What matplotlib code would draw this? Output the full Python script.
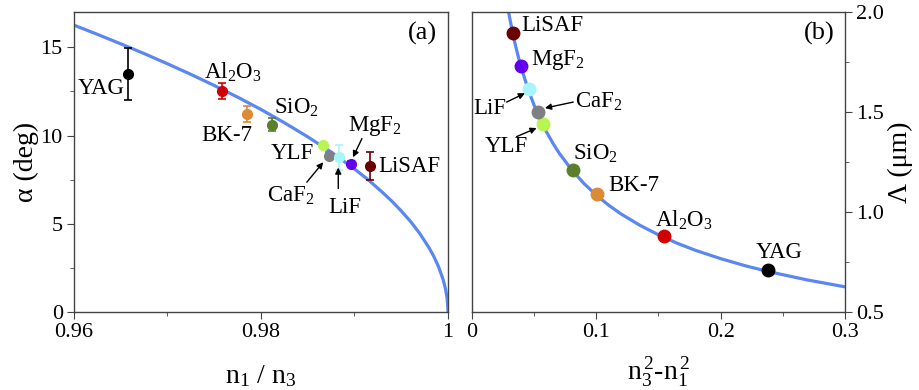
import matplotlib
matplotlib.use('Agg')
import matplotlib.pyplot as plt
from matplotlib.ticker import MultipleLocator

plt.rcParams['font.family'] = ['Liberation Serif', 'DejaVu Serif']
plt.rcParams['mathtext.fontset'] = 'custom'
plt.rcParams['mathtext.rm'] = 'Liberation Serif'
plt.rcParams['mathtext.it'] = 'Liberation Serif:italic'

# crystals (same order in both panels)
crystals = ['YAG', 'Al$_2$O$_3$', 'BK-7', 'SiO$_2$', 'YLF', 'CaF$_2$', 'LiF', 'MgF$_2$', 'LiSAF']
colors = ['#000000', '#d00000', '#dc8a35', '#5b7f2b', '#b8f550', '#808080', '#a8f5f8', '#6200ee', '#6a0000']

# panel (a): measured angle vs n1/n3
ratio = [0.96581, 0.97588, 0.97849, 0.98117, 0.98662, 0.98723, 0.98834, 0.98966, 0.99169]
alpha = [13.49, 12.55, 11.23, 10.62, 9.49, 8.87, 8.77, 8.40, 8.26]
alpha_err = [1.5, 0.45, 0.45, 0.35, 0.0, 0.2, 0.7, 0.15, 0.8]

# panel (a) theory curve
curve_a_x = [0.96, 0.9625, 0.965, 0.9675, 0.97, 0.9725, 0.975, 0.9775, 0.98, 0.9825,
             0.985, 0.9875, 0.99, 0.9915, 0.993, 0.994, 0.995, 0.996, 0.997, 0.998,
             0.9985, 0.999, 0.9995, 0.99975, 0.9999, 0.99999, 1.0]
curve_a_y = [16.26, 15.74, 15.20, 14.65, 14.07, 13.47, 12.84, 12.18, 11.48, 10.73,
             9.93, 9.07, 8.11, 7.48, 6.78, 6.28, 5.73, 5.13, 4.44, 3.62,
             3.14, 2.56, 1.81, 1.28, 0.81, 0.26, 0.0]

# panel (b): period vs n3^2 - n1^2
dn2 = [0.2378, 0.1544, 0.1008, 0.081, 0.0574, 0.0533, 0.0458, 0.0394, 0.0327]
period = [0.71, 0.88, 1.088, 1.21, 1.44, 1.498, 1.615, 1.732, 1.893]

curve_b_x = [0.029, 0.0325, 0.035, 0.0375, 0.04, 0.045, 0.05, 0.055, 0.06, 0.065, 0.07,
             0.08, 0.09, 0.1, 0.11, 0.12, 0.135, 0.15, 0.165, 0.18, 0.2, 0.22, 0.24,
             0.27, 0.3]
curve_b_y = [2.014, 1.903, 1.833, 1.771, 1.715, 1.617, 1.534, 1.463, 1.400, 1.345, 1.296,
             1.213, 1.143, 1.085, 1.034, 0.990, 0.934, 0.886, 0.844, 0.808, 0.767, 0.731,
             0.700, 0.660, 0.626]

line_color = '#5b87f2'
spine_color = '#444444'

# label placement: (x, y, ha)
labels_a = [(0.96546, 12.66, 'right'), (0.97702, 13.56, 'center'), (0.97638, 10.0, 'center'),
            (0.98377, 11.59, 'center'), (0.98334, 9.0, 'center'), (0.98323, 6.6, 'center'),
            (0.98901, 5.93, 'center'), (0.99222, 10.57, 'center'), (0.99255, 8.26, 'left')]
arrows_a = [((0.98491, 7.36), (0.98666, 8.49)),
            ((0.98827, 7.0), (0.98827, 8.19)),
            ((0.9908, 9.83), (0.98984, 8.77))]

labels_b = [(0.2468, 0.80, 'center'), (0.147, 0.96, 'left'), (0.1096, 1.135, 'left'),
            (0.0815, 1.29, 'left'), (0.0453, 1.327, 'right'), (0.0828, 1.55, 'left'),
            (0.0278, 1.52, 'right'), (0.0472, 1.76, 'left'), (0.040, 1.935, 'left')]
arrows_b = [((0.0279, 1.55), (0.0426, 1.594)),
            ((0.0815, 1.55), (0.0587, 1.52)),
            ((0.0359, 1.377), (0.052, 1.42))]


def style_axes(ax):
    for s in ax.spines.values():
        s.set_color(spine_color)
        s.set_linewidth(1.0)
    ax.tick_params(which='both', direction='out', color=spine_color, labelsize=16, pad=3)
    ax.tick_params(which='major', length=5)
    ax.tick_params(which='minor', length=3)


def draw_arrows(ax, arrows):
    for start, end in arrows:
        ax.annotate('', xy=end, xytext=start,
                    arrowprops=dict(arrowstyle='-|>', color='k', lw=1.0,
                                    mutation_scale=9, shrinkA=0, shrinkB=0))


fig = plt.figure(figsize=(9.2, 3.9), dpi=100)
ax1 = fig.add_axes([0.0804, 0.2, 0.4065, 0.769])
ax2 = fig.add_axes([0.513, 0.2, 0.4054, 0.769])

# ---- panel (a)
ax1.plot(curve_a_x, curve_a_y, color=line_color, lw=2.3, zorder=1, solid_joinstyle='round')
for i in range(len(crystals)):
    ax1.errorbar(ratio[i], alpha[i], yerr=alpha_err[i] if alpha_err[i] > 0 else None,
                 fmt='o', color=colors[i], ms=7, capsize=3, elinewidth=1.2,
                 capthick=1.2, zorder=3)
    x, y, ha = labels_a[i]
    ax1.text(x, y, crystals[i], fontsize=16.5, ha=ha, va='center')
draw_arrows(ax1, arrows_a)

ax1.set_xlim(0.96, 1.0)
ax1.set_ylim(0, 17)
ax1.set_xticks([0.96, 0.98, 1.0], ['0.96', '0.98', '1'])
ax1.xaxis.set_minor_locator(MultipleLocator(0.01))
ax1.yaxis.set_major_locator(MultipleLocator(5))
ax1.yaxis.set_minor_locator(MultipleLocator(2.5))
ax1.set_xlabel('n$_1$ / n$_3$', fontsize=20, labelpad=15)
ax1.set_ylabel('α (deg)', fontsize=20, labelpad=1)
ax1.text(0.97, 0.93, '(a)', transform=ax1.transAxes, fontsize=19, ha='right', va='center')
style_axes(ax1)

# ---- panel (b)
ax2.plot(curve_b_x, curve_b_y, color=line_color, lw=2.3, zorder=1, solid_joinstyle='round')
for i in range(len(crystals)):
    ax2.plot(dn2[i], period[i], 'o', color=colors[i], ms=9, zorder=3)
    x, y, ha = labels_b[i]
    ax2.text(x, y, crystals[i], fontsize=16.5, ha=ha, va='center')
draw_arrows(ax2, arrows_b)

ax2.set_xlim(0, 0.3)
ax2.set_ylim(0.5, 2.0)
ax2.set_xticks([0, 0.1, 0.2, 0.3], ['0', '0.1', '0.2', '0.3'])
ax2.xaxis.set_minor_locator(MultipleLocator(0.05))
ax2.yaxis.tick_right()
ax2.yaxis.set_label_position('right')
ax2.set_yticks([0.5, 1.0, 1.5, 2.0], ['0.5', '1.0', '1.5', '2.0'])
ax2.yaxis.set_minor_locator(MultipleLocator(0.25))
ax2.set_xlabel('n$_3^{\\,2}$-n$_1^{\\,2}$', fontsize=20, labelpad=10)
ax2.set_ylabel('Λ (μm)', fontsize=20, labelpad=3, rotation=90)
ax2.text(0.973, 0.93, '(b)', transform=ax2.transAxes, fontsize=19, ha='right', va='center')
style_axes(ax2)

fig.savefig('out.png', dpi=100)
